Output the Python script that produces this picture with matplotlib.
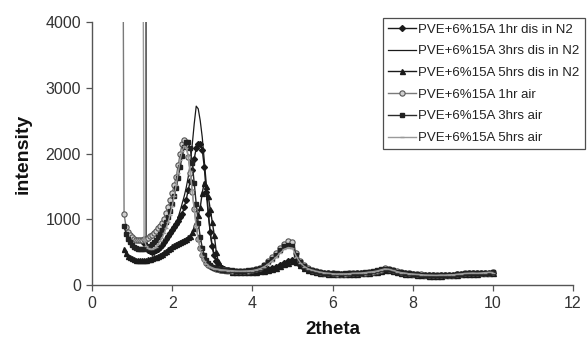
import numpy as np
import matplotlib
matplotlib.use("Agg")
import matplotlib.pyplot as plt

# ---------------- data ----------------
two_theta = [0.80, 0.85, 0.90, 0.95, 1.00, 1.05, 1.10, 1.15, 1.20, 1.25, 1.30,
             1.35, 1.40, 1.45, 1.50, 1.55, 1.60, 1.65, 1.70, 1.75, 1.80,
             1.85, 1.90, 1.95, 2.00, 2.05, 2.10, 2.15, 2.20, 2.25, 2.30,
             2.35, 2.40, 2.45, 2.50, 2.55, 2.60, 2.65, 2.70, 2.75, 2.80,
             2.85, 2.90, 2.95, 3.00, 3.05, 3.10, 3.15, 3.20, 3.25, 3.30,
             3.35, 3.40,
             3.5, 3.6, 3.7, 3.8, 3.9, 4.0,
             4.1, 4.2, 4.3, 4.4, 4.5, 4.6, 4.7, 4.8, 4.9, 5.0,
             5.1, 5.2, 5.3, 5.4, 5.5, 5.6, 5.7, 5.8, 5.9, 6.0,
             6.1, 6.2, 6.3, 6.4, 6.5, 6.6, 6.7, 6.8, 6.9, 7.0,
             7.1, 7.2, 7.3, 7.4, 7.5, 7.6, 7.7, 7.8, 7.9, 8.0,
             8.1, 8.2, 8.3, 8.4, 8.5, 8.6, 8.7, 8.8, 8.9, 9.0,
             9.1, 9.2, 9.3, 9.4, 9.5, 9.6, 9.7, 9.8, 9.9, 10.0]

n2_1hr = [None, None, None, None, None, None, None, None, None, None, 640,
          570, 530, 510, 505, 510, 525, 550, 580, 615, 655,
          700, 745, 790, 835, 880, 930, 980, 1030, 1080, 1180,
          1300, 1440, 1580, 1750, 1920, 2080, 2140, 2145, 2060, 1800,
          1420, 1080, 800, 600, 460, 370, 310, 275, 255, 242,
          235, 228,
          215, 205, 200, 198, 200, 202,
          208, 215, 225, 238, 255, 275, 300, 330, 360, 385,
          360, 310, 265, 235, 215, 200, 188, 180, 175, 170,
          168, 165, 168, 170, 172, 175, 180, 185, 190, 198,
          208, 222, 238, 235, 218, 200, 188, 178, 170, 165,
          158, 155, 150, 146, 145, 144, 148, 150, 152, 155,
          160, 165, 172, 178, 175, 178, 180, 185, 190, 188]

n2_3hrs = [None, None, None, None, None, None, None, None, None, None, None,
           680, 560, 510, 490, 485, 490, 505, 525, 555, 590,
           635, 680, 730, 790, 860, 940, 1030, 1130, 1240, 1350,
           1480, 1640, 1840, 2130, 2450, 2720, 2680, 2500, 2250, 1900,
           1550, 1120, 780, 560, 430, 350, 300, 270, 252, 240,
           233, 226,
           212, 202, 198, 196, 198, 200,
           205, 212, 222, 235, 250, 270, 292, 320, 350, 372,
           350, 300, 258, 230, 212, 198, 186, 178, 172, 168,
           165, 165, 166, 168, 170, 174, 178, 182, 188, 195,
           205, 218, 232, 230, 215, 198, 185, 176, 168, 162,
           156, 152, 148, 145, 143, 143, 146, 148, 150, 153,
           158, 163, 170, 175, 174, 176, 178, 182, 186, 185]

n2_5hrs = [540, 480, 445, 420, 405, 395, 385, 380, 378, 378, 380,
           385, 392, 400, 410, 420, 432, 445, 460, 478, 498,
           520, 545, 570, 590, 610, 630, 645, 660, 675, 690,
           705, 725, 750, 800, 870, 960, 1060, 1180, 1400, 1556,
           1500, 1350, 1150, 960, 760, 500, 360, 300, 265, 245,
           235, 228,
           205, 198, 195, 194, 196, 198,
           203, 210, 220, 232, 248, 266, 288, 315, 342, 365,
           345, 298, 255, 228, 210, 196, 185, 176, 170, 166,
           163, 162, 164, 166, 168, 172, 176, 180, 186, 192,
           202, 215, 228, 226, 212, 196, 183, 174, 166, 160,
           154, 150, 146, 143, 141, 142, 144, 146, 149, 152,
           156, 161, 168, 172, 172, 174, 176, 180, 184, 182]

air_1hr = [1080, 880, 800, 760, 730, 705, 690, 680, 680, 685, 695,
           705, 720, 740, 765, 790, 820, 860, 900, 950, 1010,
           1090, 1180, 1290, 1400, 1520, 1650, 1820, 2000, 2150, 2200,
           2130, 1950, 1700, 1420, 1150, 900, 700, 560, 460, 390,
           340, 310, 285, 270, 255, 245, 240, 235, 230, 225,
           225, 222,
           220, 215, 215, 215, 220, 225,
           240, 265, 305, 360, 420, 490, 570, 630, 665, 660,
           490, 360, 300, 260, 235, 215, 200, 190, 180, 175,
           170, 172, 168, 175, 180, 178, 185, 190, 195, 205,
           215, 235, 255, 250, 230, 210, 195, 185, 175, 170,
           165, 160, 155, 150, 150, 148, 150, 150, 152, 155,
           160, 165, 175, 180, 180, 175, 180, 185, 190, 195]

air_3hrs = [900, 780, 700, 650, 610, 585, 565, 555, 550, 550, 555,
            565, 580, 600, 625, 655, 690, 730, 775, 830, 890,
            960, 1040, 1130, 1230, 1350, 1480, 1630, 1800, 1960, 2100,
            2170, 2180, 2080, 1850, 1550, 1230, 950, 730, 570, 460,
            380, 330, 300, 280, 265, 255, 245, 240, 235, 230,
            228, 225,
            225, 220, 218, 220, 222, 228,
            240, 262, 298, 345, 400, 460, 530, 590, 615, 600,
            460, 345, 285, 250, 228, 210, 198, 188, 182, 178,
            175, 170, 175, 178, 175, 185, 188, 195, 200, 210,
            222, 240, 250, 245, 225, 205, 192, 182, 178, 168,
            162, 158, 152, 148, 146, 150, 148, 152, 155, 158,
            162, 170, 178, 185, 178, 182, 185, 190, 188, 200]

air_5hrs = [None, None, None, None, None, None, None, None, None, None, 690,
            600, 560, 545, 545, 560, 585, 620, 665, 720, 790,
            870, 960, 1070, 1200, 1350, 1520, 1710, 1900, 2040, 2110,
            2090, 1960, 1730, 1450, 1160, 900, 690, 540, 440, 370,
            325, 295, 275, 262, 250, 243, 238, 233, 230, 226,
            222, 220,
            218, 212, 210, 212, 215, 220,
            232, 250, 280, 320, 370, 425, 490, 545, 570, 560,
            430, 335, 280, 245, 225, 208, 195, 185, 178, 172,
            168, 170, 170, 172, 178, 180, 182, 188, 195, 202,
            212, 228, 245, 240, 222, 205, 190, 182, 172, 168,
            160, 158, 152, 150, 148, 146, 152, 150, 155, 156,
            162, 168, 175, 178, 182, 178, 182, 188, 192, 190]

# first (off-scale) readings that produce the vertical spikes
spike_2theta = {"air_1hr": 0.75, "air_5hrs": 1.25, "n2_3hrs": 1.345}
spike_intensity = {"air_1hr": 9000, "air_5hrs": 9000, "n2_3hrs": 9000}

series_labels = ["PVE+6%15A 1hr dis in N2", "PVE+6%15A 3hrs dis in N2",
                 "PVE+6%15A 5hrs dis in N2", "PVE+6%15A 1hr air",
                 "PVE+6%15A 3hrs air", "PVE+6%15A 5hrs air"]

x_ticks = [0, 2, 4, 6, 8, 10, 12]
y_ticks = [0, 1000, 2000, 3000, 4000]

# ---------------- drawing ----------------
plt.rcParams['font.family'] = ['Liberation Sans', 'DejaVu Sans']

fig = plt.figure(figsize=(5.87, 3.39), dpi=100)
ax = fig.add_axes([92 / 587, 1 - 285 / 339, (573 - 92) / 587, (285 - 22) / 339])

series = [
    ("n2_1hr", n2_1hr, dict(color='#1a1a1a', lw=1.0, marker='D', ms=3.0,
                            mfc='#1a1a1a', mec='#1a1a1a')),
    ("n2_3hrs", n2_3hrs, dict(color='#1a1a1a', lw=0.9, marker=None)),
    ("n2_5hrs", n2_5hrs, dict(color='#1a1a1a', lw=1.0, marker='^', ms=3.6,
                              mfc='#1a1a1a', mec='#1a1a1a')),
    ("air_1hr", air_1hr, dict(color='#7a7a7a', lw=1.0, marker='o', ms=3.8,
                              mfc='#cfcfcf', mec='#555555', mew=0.8)),
    ("air_3hrs", air_3hrs, dict(color='#2a2a2a', lw=1.0, marker='s', ms=2.8,
                                mfc='#222222', mec='#222222')),
    ("air_5hrs", air_5hrs, dict(color='#9a9a9a', lw=1.0, marker='_', ms=3.5,
                                mec='#9a9a9a')),
]

xs_all = np.array(two_theta, dtype=float)
for (key, vals, style), label in zip(series, series_labels):
    ys = np.array(vals, dtype=float)
    mask = ~np.isnan(ys)
    xs = xs_all[mask]
    ys = ys[mask]
    if key in spike_2theta:
        xs = np.concatenate([[spike_2theta[key]], xs])
        ys = np.concatenate([[spike_intensity[key]], ys])
    ax.plot(xs, ys, label=label, **style)

ax.set_xlim(0, 12)
ax.set_ylim(0, 4000)
ax.set_xticks(x_ticks)
ax.set_yticks(y_ticks)
for s in ['top', 'right']:
    ax.spines[s].set_visible(False)
for s in ['left', 'bottom']:
    ax.spines[s].set_color('#555555')
    ax.spines[s].set_linewidth(1.0)
ax.tick_params(direction='out', length=4, width=0.9, colors='#555555',
               labelsize=11.5, labelcolor='#333333', pad=4)

ax.set_xlabel('2theta', fontsize=13.5, fontweight='bold', color='#111111',
              labelpad=7)
ax.set_ylabel('intensity', fontsize=14, fontweight='bold', color='#111111',
              labelpad=10)

leg = fig.legend(loc='upper right', bbox_to_anchor=(585 / 587, 1 - 18 / 339),
                 fontsize=9.5, frameon=True, fancybox=False, numpoints=1,
                 handlelength=2.1, handletextpad=0.2, labelspacing=0.72,
                 borderpad=0.4, borderaxespad=0.0)
leg.get_frame().set_edgecolor('#222222')
leg.get_frame().set_linewidth(0.9)
for t in leg.get_texts():
    t.set_color('#222222')

fig.savefig('out.png', dpi=100)
